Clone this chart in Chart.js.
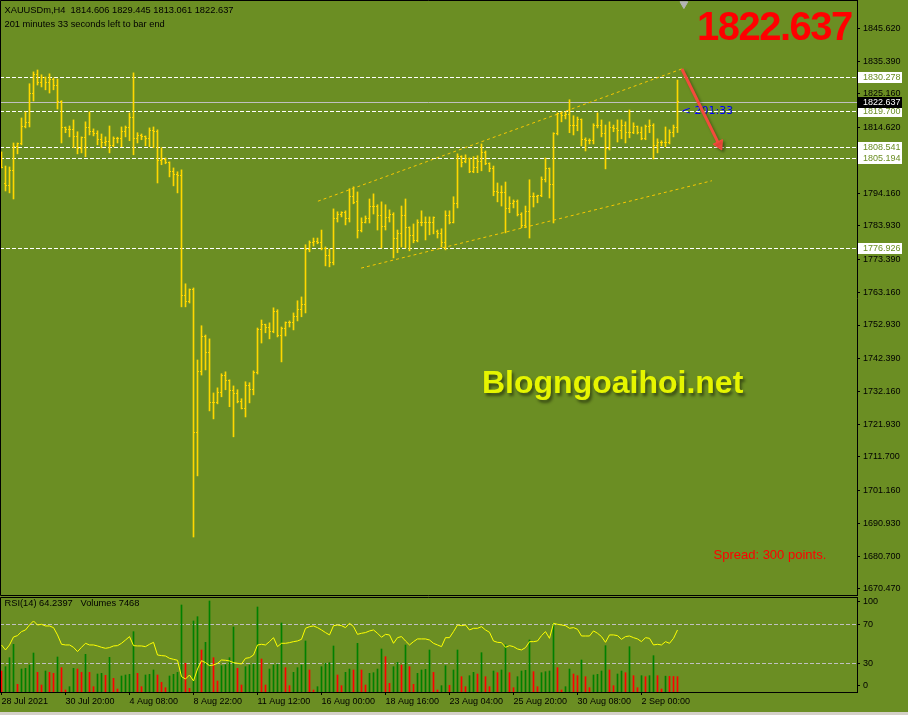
<!DOCTYPE html>
<html>
<head>
<meta charset="utf-8">
<title>XAUUSDm,H4</title>
<script src="https://cdn.jsdelivr.net/npm/chart.js@4.4.0/dist/chart.umd.min.js"></script>
<style>
  html, body { margin: 0; padding: 0; }
  body { width: 908px; height: 715px; background: #6b8e23; position: relative; overflow: hidden;
         font-family: "Liberation Sans", Arial, sans-serif; }
  canvas { position: absolute; left: 0; z-index: 1; }
  #priceChart { top: 0; }
  #rsiChart { top: 597px; }
  .txt { position: absolute; white-space: pre; z-index: 2; }
  #info1 { left: 4.5px; top: 5px; font-size: 9.3px; line-height: 11px; color: #000; }
  #info2 { left: 4.5px; top: 18.5px; font-size: 9.3px; line-height: 11px; color: #000; }
  #bigPrice { left: 697px; top: 5.6px; font-size: 40px; line-height: 40px; font-weight: bold; color: #ff0000; letter-spacing: -1.5px; }
  #brand { left: 482px; top: 366px; font-size: 32px; line-height: 32px; font-weight: bold; color: #e6f500;
           text-shadow: 2px 3px 3px rgba(0,0,0,0.45); }
  #spread { left: 713.5px; top: 547px; font-size: 13px; line-height: 15px; color: #ff0000; }
  #timer { left: 681.5px; top: 103.7px; font-family: "DejaVu Sans", sans-serif; font-size: 11px; line-height: 13px; color: #0000ff; z-index: 0; }
  #rsiInfo { left: 4.5px; top: 597.6px; font-size: 9.3px; line-height: 11px; color: #000; }
  #edge { position: absolute; left: 0; top: 712px; width: 908px; height: 3px; background: #d4d0c8; }
</style>
</head>
<body>
<div class="txt" id="timer">&lt; 201:33</div>
<canvas id="priceChart" width="908" height="596"></canvas>
<canvas id="rsiChart" width="908" height="118"></canvas>
<div class="txt" id="info1">XAUUSDm,H4  1814.606 1829.445 1813.061 1822.637</div>
<div class="txt" id="info2">201 minutes 33 seconds left to bar end</div>
<div class="txt" id="bigPrice">1822.637</div>
<div class="txt" id="brand">Blogngoaihoi.net</div>
<div class="txt" id="spread">Spread: 300 points.</div>
<div class="txt" id="rsiInfo">RSI(14) 64.2397   Volumes 7468</div>
<div id="edge"></div>
<script>
// H4 bars, 28 Jul 2021 -> 2 Sep 2021
const openP = [
  1806.1,1797.0,1796.4,1801.1,1808.6,1809.5,1814.8,1816.1,1825.1,1831.1,
  1828.6,1830.1,1828.6,1829.5,1827.6,1822.6,1814.5,1813.9,1813.9,1811.7,
  1808.0,1811.4,1814.5,1813.3,1812.6,1810.8,1809.8,1810.1,1808.9,1811.1,
  1811.1,1813.3,1814.5,1817.9,1811.1,1812.0,1811.7,1811.1,1813.6,1813.3,
  1804.2,1804.5,1803.6,1800.8,1800.1,1799.5,1762.0,1760.2,1763.9,1719.2,
  1738.3,1749.2,1744.2,1728.6,1728.6,1731.7,1737.3,1735.5,1732.4,1731.4,
  1728.9,1727.0,1733.9,1732.7,1738.0,1751.4,1753.0,1752.3,1750.8,1757.0,
  1749.5,1751.7,1753.6,1753.6,1755.5,1757.7,1759.2,1776.4,1778.6,1778.9,
  1778.6,1776.7,1774.5,1772.3,1786.1,1787.3,1788.0,1786.1,1793.0,1791.4,
  1782.6,1785.1,1786.1,1790.1,1790.1,1787.0,1783.6,1786.4,1787.3,1779.8,
  1781.4,1787.0,1783.3,1780.8,1779.2,1785.1,1784.8,1784.8,1784.8,1782.0,
  1781.4,1778.6,1787.0,1785.1,1790.8,1805.5,1803.9,1804.8,1800.8,1802.0,
  1803.9,1806.7,1803.3,1801.7,1794.5,1794.2,1794.2,1789.2,1790.8,1791.4,
  1787.6,1783.9,1788.3,1793.0,1793.0,1793.3,1798.3,1801.7,1796.7,1812.6,
  1818.9,1818.3,1818.6,1815.1,1815.1,1817.0,1810.8,1810.5,1810.5,1815.4,
  1815.4,1812.6,1808.0,1814.5,1814.2,1813.6,1815.4,1813.0,1813.0,1814.8,
  1813.0,1811.1,1814.8,1815.4,1808.9,1809.8,1809.8,1809.8,1813.0,1814.606
];
const highP = [
  1807.0,1802.6,1802.3,1809.8,1809.8,1817.6,1819.5,1828.3,1832.0,1832.6,
  1831.1,1830.4,1831.4,1830.1,1829.8,1823.0,1814.8,1815.1,1817.0,1813.3,
  1811.7,1816.4,1819.5,1814.2,1813.6,1812.6,1811.7,1815.1,1811.7,1811.6,
  1814.8,1815.1,1819.2,1831.7,1813.0,1812.6,1812.0,1814.5,1814.8,1813.9,
  1808.3,1805.1,1803.9,1802.0,1800.8,1801.4,1765.8,1764.2,1764.5,1742.0,
  1752.7,1749.8,1748.6,1731.7,1733.3,1737.7,1738.3,1735.8,1733.9,1732.7,
  1729.9,1735.2,1734.9,1738.6,1752.0,1754.5,1753.2,1753.6,1758.3,1757.7,
  1752.3,1753.9,1754.2,1756.7,1760.5,1761.7,1778.0,1779.2,1780.1,1780.1,
  1782.6,1777.3,1776.7,1789.2,1788.3,1788.3,1788.6,1795.5,1796.1,1794.5,
  1786.4,1787.0,1792.3,1793.9,1790.5,1791.4,1790.5,1788.9,1788.0,1782.6,
  1790.1,1792.3,1783.6,1784.5,1785.8,1788.6,1786.7,1786.7,1786.7,1782.6,
  1783.0,1788.6,1788.6,1793.0,1806.4,1805.8,1806.1,1805.1,1805.5,1805.8,
  1809.5,1807.3,1803.6,1802.6,1797.3,1796.4,1797.6,1793.0,1792.0,1792.0,
  1788.0,1790.1,1798.3,1794.2,1793.5,1799.2,1805.1,1802.0,1813.0,1819.2,
  1819.5,1819.5,1823.3,1818.3,1817.9,1817.3,1811.4,1811.1,1815.8,1819.2,
  1817.0,1815.4,1816.4,1815.4,1817.0,1817.0,1816.4,1820.1,1816.1,1815.1,
  1814.8,1815.4,1817.0,1815.8,1811.1,1810.5,1814.8,1813.9,1815.4,1829.445
];
const lowP = [
  1802.0,1794.8,1794.2,1792.3,1806.4,1809.2,1814.5,1814.8,1822.9,1827.9,
  1827.3,1826.4,1825.4,1826.4,1820.4,1809.8,1813.0,1811.7,1808.3,1806.4,
  1806.7,1805.5,1812.3,1812.0,1809.2,1808.3,1808.9,1806.7,1808.6,1809.8,
  1808.6,1811.7,1810.5,1806.1,1809.8,1810.8,1808.9,1808.6,1808.3,1797.3,
  1803.0,1803.3,1799.2,1796.4,1794.2,1758.6,1758.6,1759.8,1686.7,1705.8,
  1737.3,1738.9,1726.1,1723.6,1728.3,1730.5,1732.7,1727.4,1718.0,1728.6,
  1726.7,1724.2,1728.6,1731.1,1737.6,1747.3,1750.5,1748.6,1750.5,1749.2,
  1741.4,1749.5,1752.3,1751.4,1754.2,1755.5,1756.7,1775.8,1777.6,1778.3,
  1776.4,1771.4,1771.1,1771.7,1785.1,1786.7,1784.2,1785.1,1790.8,1780.1,
  1782.0,1784.8,1784.8,1787.6,1782.6,1777.0,1782.6,1785.1,1773.9,1775.5,
  1777.3,1777.0,1776.1,1778.6,1778.9,1783.9,1779.5,1781.1,1781.4,1780.1,
  1777.3,1776.4,1784.5,1784.8,1789.5,1802.3,1803.6,1800.5,1800.5,1800.5,
  1801.1,1803.0,1800.8,1793.3,1791.4,1790.1,1781.7,1788.0,1789.5,1787.0,
  1783.3,1783.3,1780.1,1789.8,1791.1,1793.0,1797.6,1792.6,1784.8,1812.3,
  1816.4,1817.3,1813.0,1812.3,1813.6,1808.9,1807.3,1809.5,1809.5,1814.5,
  1811.7,1801.7,1807.6,1813.3,1810.1,1811.1,1809.8,1811.4,1812.7,1812.6,
  1810.8,1810.8,1813.0,1804.8,1806.7,1808.9,1808.6,1809.5,1811.7,1813.061
];
const closeP = [
  1802.0,1796.4,1801.1,1808.6,1809.5,1814.8,1816.1,1825.1,1831.1,1828.6,
  1830.1,1828.6,1829.5,1827.6,1822.6,1814.5,1813.9,1813.9,1811.7,1808.0,
  1811.4,1814.5,1813.3,1812.6,1810.8,1809.8,1810.1,1808.9,1811.1,1811.1,
  1813.3,1814.5,1817.9,1811.1,1812.0,1811.7,1811.1,1813.6,1813.3,1804.2,
  1804.5,1803.6,1800.8,1800.1,1799.5,1762.0,1760.2,1763.9,1719.2,1738.3,
  1749.2,1744.2,1728.6,1728.6,1731.7,1737.3,1735.5,1732.4,1731.4,1728.9,
  1727.0,1733.9,1732.7,1738.0,1751.4,1753.0,1752.3,1750.8,1757.0,1749.5,
  1751.7,1753.6,1753.6,1755.5,1757.7,1759.2,1776.4,1778.6,1778.9,1778.6,
  1776.7,1774.5,1772.3,1786.1,1787.3,1788.0,1786.1,1793.0,1791.1,1782.6,
  1785.1,1786.1,1790.1,1790.1,1787.0,1783.6,1786.4,1787.3,1779.8,1781.4,
  1787.0,1783.3,1780.8,1779.2,1785.1,1784.8,1784.8,1784.8,1786.4,1781.4,
  1778.6,1787.0,1785.1,1790.8,1805.5,1803.6,1804.8,1800.8,1802.0,1803.9,
  1806.7,1803.3,1801.7,1794.5,1794.2,1794.2,1789.2,1790.8,1791.4,1787.6,
  1783.9,1788.3,1793.0,1793.0,1793.3,1798.3,1801.7,1796.7,1812.6,1818.9,
  1818.3,1818.6,1815.1,1815.1,1817.0,1810.8,1810.5,1810.5,1815.4,1815.4,
  1812.6,1808.0,1814.5,1814.2,1813.6,1815.4,1813.0,1813.0,1814.8,1813.0,
  1811.1,1814.8,1815.4,1808.9,1809.8,1809.8,1809.8,1813.0,1814.6,1822.637
];
const volumes = [
  10206,12312,16686,23166,3726,11178,11502,13122,18954,9558,
  3402,10206,9558,9072,17010,11826,972,2592,11502,11178,
  9558,18306,9558,2592,8748,9072,8100,16848,6642,1458,
  7776,8262,8586,29322,9072,2592,8262,8586,10692,8262,
  4698,2106,7776,8586,9558,42282,13932,1782,34506,36612,
  20412,24138,44226,16686,5346,12798,13284,16686,31590,11502,
  3402,12312,13122,13608,41310,16038,3402,11178,13122,13608,
  33534,11826,3078,9558,11826,13122,24786,10692,972,2592,
  12312,13932,14256,22356,8262,3078,9558,11178,10692,23652,
  10692,3402,9072,9396,11178,20898,17172,4212,12312,14418,
  13122,22842,12312,3726,9072,10692,11016,20412,9558,972,
  3078,12798,3240,10692,20412,7452,2592,7938,9558,8748,
  19116,7452,2592,10206,9396,10692,22842,9396,2106,7452,
  10206,10530,25272,9882,2592,9396,9882,10206,33372,11826,
  972,2592,11178,8748,7938,15552,7452,2106,8262,8586,
  10206,22518,10692,3078,8748,10206,9396,22032,7938,2106,
  7938,7452,7938,17658,7938,1458,7695,7614,7550,7468
];
const rsiValues = [
  48.8,43.7,48.8,57.0,58.4,62.5,64.2,69.3,73.4,69.3,
  70.0,68.3,68.3,66.6,59.1,49.5,48.8,48.8,46.4,42.0,
  46.4,50.5,48.8,48.8,47.8,46.4,45.4,46.1,47.8,48.1,
  50.5,53.9,57.4,48.1,47.8,47.8,47.1,49.5,51.5,38.5,
  37.9,37.5,35.1,34.1,33.1,16.3,13.9,18.0,11.9,24.2,
  32.7,30.7,27.6,28.3,30.0,33.4,33.1,32.4,30.7,30.0,
  29.3,35.1,35.8,38.5,48.8,49.5,48.8,52.2,56.3,47.1,
  50.5,50.5,51.2,52.2,52.9,54.6,65.9,67.6,68.3,66.6,
  64.2,61.5,59.1,68.6,69.3,68.6,66.6,71.0,67.6,59.7,
  60.8,61.5,63.2,64.2,60.8,56.7,59.7,59.1,50.5,56.3,
  57.4,52.9,48.8,52.2,55.0,55.0,55.0,53.9,50.5,48.8,
  47.1,56.3,56.3,62.5,69.3,68.6,69.3,64.2,65.9,65.9,
  67.6,64.2,61.8,52.9,51.5,51.2,46.4,48.1,47.1,44.7,
  43.7,46.1,52.2,52.2,52.9,58.4,62.5,55.6,71.0,70.0,
  69.3,68.6,65.9,66.6,64.9,58.0,58.0,58.0,63.2,60.8,
  57.4,51.5,59.1,59.1,58.4,54.6,57.4,58.0,56.3,55.0,
  52.2,56.3,55.6,48.8,49.5,48.8,52.2,50.5,55.6,64.2
];

const priceTicks = [1845.620, 1835.390, 1825.160, 1814.620, 1804.390, 1794.160, 1783.930, 1773.390, 1763.160,
  1752.930, 1742.390, 1732.160, 1721.930, 1711.700, 1701.160, 1690.930, 1680.700, 1670.470];
const timeTickIdx = [0, 16, 32, 48, 64, 80, 96, 112, 128, 144, 160];
const timeLabels = ['28 Jul 2021', '30 Jul 20:00', '4 Aug 08:00', '8 Aug 22:00', '11 Aug 12:00', '16 Aug 00:00',
  '18 Aug 16:00', '23 Aug 04:00', '25 Aug 20:00', '30 Aug 08:00', '2 Sep 00:00'];
const levels = [1830.278, 1819.700, 1808.541, 1805.194, 1776.926];
const lastPrice = 1822.637;
const channelTop = [{x: 79.1, y: 1791.6}, {x: 170.45, y: 1833.1}];
const channelBottom = [{x: 89.9, y: 1770.7}, {x: 177.6, y: 1798.0}];
const arrowPath = [{x: 170.1, y: 1832.9}, {x: 179.4, y: 1809.3}];
const shiftMark = [{x: 170.6, y: 1853.2}];
const rsiLevels = [70, 30];
const rsiTickPos = [93.2, 70, 30, 7.7];
const rsiTickLabels = ['100', '70', '30', '0'];

const xMin = -0.375, xMax = 213.875;
const priceMax = 1854.46, priceMin = 1668.27;
const barColor = '#ffd700';
const bgColor = '#6b8e23';
const axisFont = {family: '"Liberation Sans", Arial, sans-serif', size: 9};

Chart.defaults.font.family = axisFont.family;
Chart.defaults.color = '#000';

function fixRightAxis(s) {
  s.width = 51;
  s.paddingTop = 0; s.paddingBottom = 0; s.paddingLeft = 0; s.paddingRight = 0;
}

// open / close ticks of every bar
const ohlcTicks = {
  id: 'ohlcTicks',
  afterDatasetDraw(chart, args) {
    if (args.index !== 0) return;
    const {ctx, scales: {x, y}} = chart;
    ctx.save();
    ctx.fillStyle = barColor;
    for (let i = 0; i < openP.length; i++) {
      const px = Math.round(x.getPixelForValue(i) - 0.5);
      ctx.fillRect(px - 1, Math.round(y.getPixelForValue(openP[i]) - 0.5), 1, 1);
      ctx.fillRect(px + 1, Math.round(y.getPixelForValue(closeP[i]) - 0.5), 1, 1);
    }
    ctx.restore();
  }
};

const priceLevels = {
  id: 'priceLevels',
  beforeDatasetsDraw(chart) {
    const {ctx, chartArea: a, scales: {y}} = chart;
    ctx.save();
    ctx.lineWidth = 1;
    ctx.strokeStyle = '#ffffff';
    ctx.setLineDash([4, 2]);
    levels.forEach(v => {
      const py = Math.round(y.getPixelForValue(v)) + 0.5;
      ctx.beginPath(); ctx.moveTo(a.left, py); ctx.lineTo(a.right, py); ctx.stroke();
    });
    ctx.setLineDash([]);
    ctx.strokeStyle = '#c0c0c0';
    const cy = Math.round(y.getPixelForValue(lastPrice)) + 0.5;
    ctx.beginPath(); ctx.moveTo(a.left, cy); ctx.lineTo(a.right, cy); ctx.stroke();
    ctx.restore();
  },
  beforeDatasetDraw(chart, args) {
    if (args.index !== 3) return;
    const ctx = chart.ctx;
    ctx.shadowColor = 'rgba(0,0,0,0.35)';
    ctx.shadowBlur = 3;
    ctx.shadowOffsetX = 2;
    ctx.shadowOffsetY = 2;
  },
  afterDatasetDraw(chart, args) {
    if (args.index !== 3) return;
    const ctx = chart.ctx;
    ctx.shadowColor = 'rgba(0,0,0,0)';
    ctx.shadowBlur = 0;
    ctx.shadowOffsetX = 0;
    ctx.shadowOffsetY = 0;
  },
  afterDraw(chart) {
    const {ctx, chartArea: a, scales: {y}} = chart;
    ctx.save();
    ctx.strokeStyle = '#000';
    ctx.lineWidth = 1;
    ctx.beginPath();
    ctx.moveTo(a.right, 0.5); ctx.lineTo(0.5, 0.5); ctx.lineTo(0.5, a.bottom - 0.5); ctx.lineTo(a.right, a.bottom - 0.5);
    ctx.stroke();
    ctx.font = '9px ' + axisFont.family;
    ctx.textBaseline = 'middle';
    levels.forEach(v => {
      const py = Math.round(y.getPixelForValue(v));
      ctx.fillStyle = '#ffffff';
      ctx.fillRect(a.right + 1, py - 5, 44, 11);
      ctx.fillStyle = bgColor;
      ctx.fillText(v.toFixed(3), a.right + 6, py + 0.5);
    });
    const cy = Math.round(y.getPixelForValue(lastPrice));
    ctx.fillStyle = '#000000';
    ctx.fillRect(a.right + 1, cy - 5, 44, 11);
    ctx.fillStyle = '#ffffff';
    ctx.fillText(lastPrice.toFixed(3), a.right + 6, cy + 0.5);
    ctx.restore();
  }
};

const rsiFrame = {
  id: 'rsiFrame',
  beforeDatasetsDraw(chart) {
    const {ctx, chartArea: a, scales: {y}} = chart;
    ctx.save();
    ctx.strokeStyle = '#c0c0c0';
    ctx.lineWidth = 1;
    ctx.setLineDash([4, 2]);
    rsiLevels.forEach(v => {
      const py = Math.round(y.getPixelForValue(v)) + 0.5;
      ctx.beginPath(); ctx.moveTo(a.left, py); ctx.lineTo(a.right, py); ctx.stroke();
    });
    ctx.restore();
  },
  afterDraw(chart) {
    const {ctx, chartArea: a} = chart;
    ctx.save();
    ctx.strokeStyle = '#000';
    ctx.lineWidth = 1;
    ctx.beginPath();
    ctx.moveTo(a.right, 0.5); ctx.lineTo(0.5, 0.5); ctx.lineTo(0.5, a.bottom);
    ctx.stroke();
    ctx.restore();
  }
};

new Chart(document.getElementById('priceChart'), {
  data: {
    datasets: [
      {
        type: 'bar',
        data: highP.map((h, i) => ({x: i, y: [lowP[i], h]})),
        backgroundColor: barColor,
        barThickness: 1,
        order: 4
      },
      {
        type: 'line',
        data: channelTop,
        borderColor: '#f8c800',
        borderWidth: 1,
        borderDash: [3, 3],
        pointRadius: 0,
        order: 3
      },
      {
        type: 'line',
        data: channelBottom,
        borderColor: '#f8c800',
        borderWidth: 1,
        borderDash: [3, 3],
        pointRadius: 0,
        order: 2
      },
      {
        type: 'line',
        data: arrowPath,
        borderColor: '#f24b3c',
        borderWidth: 3,
        pointRadius: [0, 6],
        pointStyle: 'triangle',
        rotation: 153.7,
        pointBackgroundColor: '#f24b3c',
        pointBorderColor: '#f24b3c',
        pointBorderWidth: 1,
        order: 1
      },
      {
        type: 'scatter',
        data: shiftMark,
        pointStyle: 'triangle',
        rotation: 180,
        pointRadius: 4.5,
        backgroundColor: '#b4b4b4',
        borderColor: '#b4b4b4',
        order: 0
      }
    ]
  },
  options: {
    responsive: false,
    animation: false,
    layout: {padding: 0, autoPadding: false},
    plugins: {legend: {display: false}, tooltip: {enabled: false}},
    scales: {
      x: {type: 'linear', min: xMin, max: xMax, offset: false, display: false, grid: {offset: false}},
      y: {
        position: 'right',
        min: priceMin,
        max: priceMax,
        beginAtZero: false,
        afterFit: fixRightAxis,
        afterBuildTicks: s => { s.ticks = priceTicks.map(v => ({value: v})); },
        ticks: {callback: v => v.toFixed(3), color: '#000', font: axisFont, padding: 3, autoSkip: false},
        grid: {drawOnChartArea: false, color: '#000', tickLength: 3},
        border: {color: '#000'}
      }
    }
  },
  plugins: [ohlcTicks, priceLevels]
});

new Chart(document.getElementById('rsiChart'), {
  data: {
    datasets: [
      {
        type: 'line',
        data: rsiValues.map((v, i) => ({x: i, y: v})),
        borderColor: '#ffff00',
        borderWidth: 1,
        pointRadius: 0,
        yAxisID: 'y',
        order: 1
      },
      {
        type: 'bar',
        data: volumes.map((v, i) => ({x: i, y: v})),
        backgroundColor: volumes.map((v, i) => (i > 0 && v > volumes[i - 1]) ? '#008000' : '#ff0000'),
        barThickness: 1,
        yAxisID: 'yv',
        order: 2
      }
    ]
  },
  options: {
    responsive: false,
    animation: false,
    layout: {padding: 0, autoPadding: false},
    plugins: {legend: {display: false}, tooltip: {enabled: false}},
    scales: {
      x: {
        type: 'linear', min: xMin, max: xMax, offset: false, position: 'bottom',
        afterBuildTicks: s => { s.ticks = timeTickIdx.map(v => ({value: v})); },
        afterFit: s => { s.height = 23; s.paddingLeft = 0; s.paddingRight = 0; },
        ticks: {callback: (v, i) => timeLabels[i], align: 'start', autoSkip: false, maxRotation: 0, padding: 1, color: '#000', font: axisFont},
        grid: {drawOnChartArea: false, offset: false, color: '#000', tickLength: 3},
        border: {color: '#000'}
      },
      y: {
        position: 'right',
        min: 0.56,
        max: 98,
        beginAtZero: false,
        afterFit: fixRightAxis,
        afterBuildTicks: s => { s.ticks = rsiTickPos.map(v => ({value: v})); },
        ticks: {callback: (v, i) => rsiTickLabels[i], color: '#000', font: axisFont, padding: 3, autoSkip: false},
        grid: {drawOnChartArea: false, color: '#000', tickLength: 3},
        border: {color: '#000'}
      },
      yv: {display: false, min: 0, max: 46170, beginAtZero: true}
    }
  },
  plugins: [rsiFrame]
});
</script>
</body>
</html>
